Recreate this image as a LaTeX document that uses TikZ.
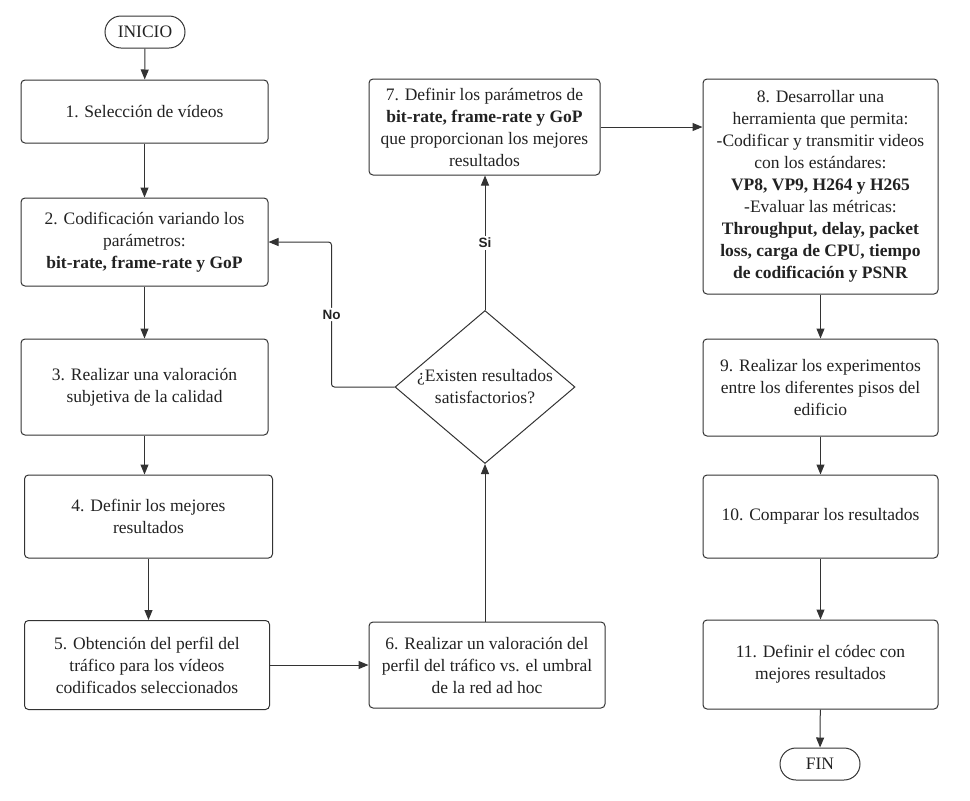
\documentclass[tikz,border=0pt]{standalone}
\usepackage{fontspec}
\setmainfont{Liberation Serif}
\newfontfamily\etiquetafont{Liberation Sans}
\usetikzlibrary{arrows.meta,shapes.geometric}
\definecolor{linea}{HTML}{333333}
\definecolor{texto}{HTML}{222222}
\begin{document}
\begin{tikzpicture}[x=1pt,y=-1pt,
    every node/.style={text=texto,font=\fontsize{17.5}{22}\selectfont},
    paso/.style={draw=linea,line width=1pt,rounded corners=4pt,align=center,inner sep=0pt},
    terminal/.style={draw=linea,line width=1pt,rounded corners=16pt,minimum width=80pt,minimum height=32pt,inner sep=0pt},
    decision/.style={draw=linea,line width=1pt,diamond,aspect=1.18,inner sep=0pt,minimum width=180pt,minimum height=153pt,align=center},
    etiqueta/.style={fill=white,inner sep=2pt,font=\etiquetafont\bfseries\fontsize{13.5}{16}\selectfont}]
  \useasboundingbox (0,0) rectangle (970,801);
  \node[terminal] (inicio) at (145,32) {INICIO};
  \node[paso,minimum width=247pt,minimum height=63pt] (p1) at (144.5,111.5) {1. Selección de vídeos};
  \node[paso,minimum width=247pt,minimum height=88pt] (p2) at (144.5,242) {2. Codificación variando los\\parámetros:\\\textbf{bit-rate, frame-rate y GoP}};
  \node[paso,minimum width=247pt,minimum height=96pt] (p3) at (144.5,387) {3. Realizar una valoración\\subjetiva de la calidad};
  \node[paso,minimum width=248pt,minimum height=83pt] (p4) at (148.5,516.5) {4. Definir los mejores\\resultados};
  \node[paso,minimum width=245pt,minimum height=89pt] (p5) at (147,665) {5. Obtención del perfil del\\tráfico para los vídeos\\codificados seleccionados};
  \node[paso,minimum width=236pt,minimum height=86pt] (p6) at (487,665) {6. Realizar un valoración del\\perfil del tráfico vs. el umbral\\de la red ad hoc};
  \node[decision] (dec) at (485,387) {¿Existen resultados\\satisfactorios?};
  \node[paso,minimum width=231pt,minimum height=96pt] (p7) at (484.5,127) {7. Definir los parámetros de\\\textbf{bit-rate, frame-rate y GoP}\\que proporcionan los mejores\\resultados};
  \node[paso,minimum width=235pt,minimum height=215pt] (p8) at (820.5,186.5) {8. Desarrollar una\\herramienta que permita:\\-Codificar y transmitir videos\\con los estándares:\\\textbf{VP8, VP9, H264 y H265}\\-Evaluar las métricas:\\\textbf{Throughput, delay, packet}\\\textbf{loss, carga de CPU, tiempo}\\\textbf{de codificación y PSNR}};
  \node[paso,minimum width=235pt,minimum height=97pt] (p9) at (820.5,387.5) {9. Realizar los experimentos\\entre los diferentes pisos del\\edificio};
  \node[paso,minimum width=235pt,minimum height=83pt] (p10) at (820.5,516.5) {10. Comparar los resultados};
  \node[paso,minimum width=235pt,minimum height=89pt] (p11) at (820.5,664.5) {11. Definir el códec con\\mejores resultados};
  \node[terminal] (fin) at (820,764) {FIN};
  \begin{scope}[draw=linea,line width=1pt,-{Triangle[length=10pt,width=8pt]}]
    \draw (inicio) -- (p1);
    \draw (p1) -- (p2);
    \draw (p2) -- (p3);
    \draw (p3.south) -- (p3.south |- p4.north);
    \draw (p4.south) -- (p4.south |- p5.north);
    \draw (p5.east) -- (p5.east -| p6.west);
    \draw (dec.south |- p6.north) -- (dec.south);
    \draw (dec.north) -- node[etiqueta]{Si} (dec.north |- p7.south);
    \draw[rounded corners=3pt] (dec.west) -- ++(-63,0) |- node[pos=0.25,etiqueta]{No} (p2.east);
    \draw (p7.east) -- (p7.east -| p8.west);
    \draw (p8) -- (p9);
    \draw (p9) -- (p10);
    \draw (p10) -- (p11);
    \draw (p11) -- (fin);
  \end{scope}
\end{tikzpicture}
\end{document}
